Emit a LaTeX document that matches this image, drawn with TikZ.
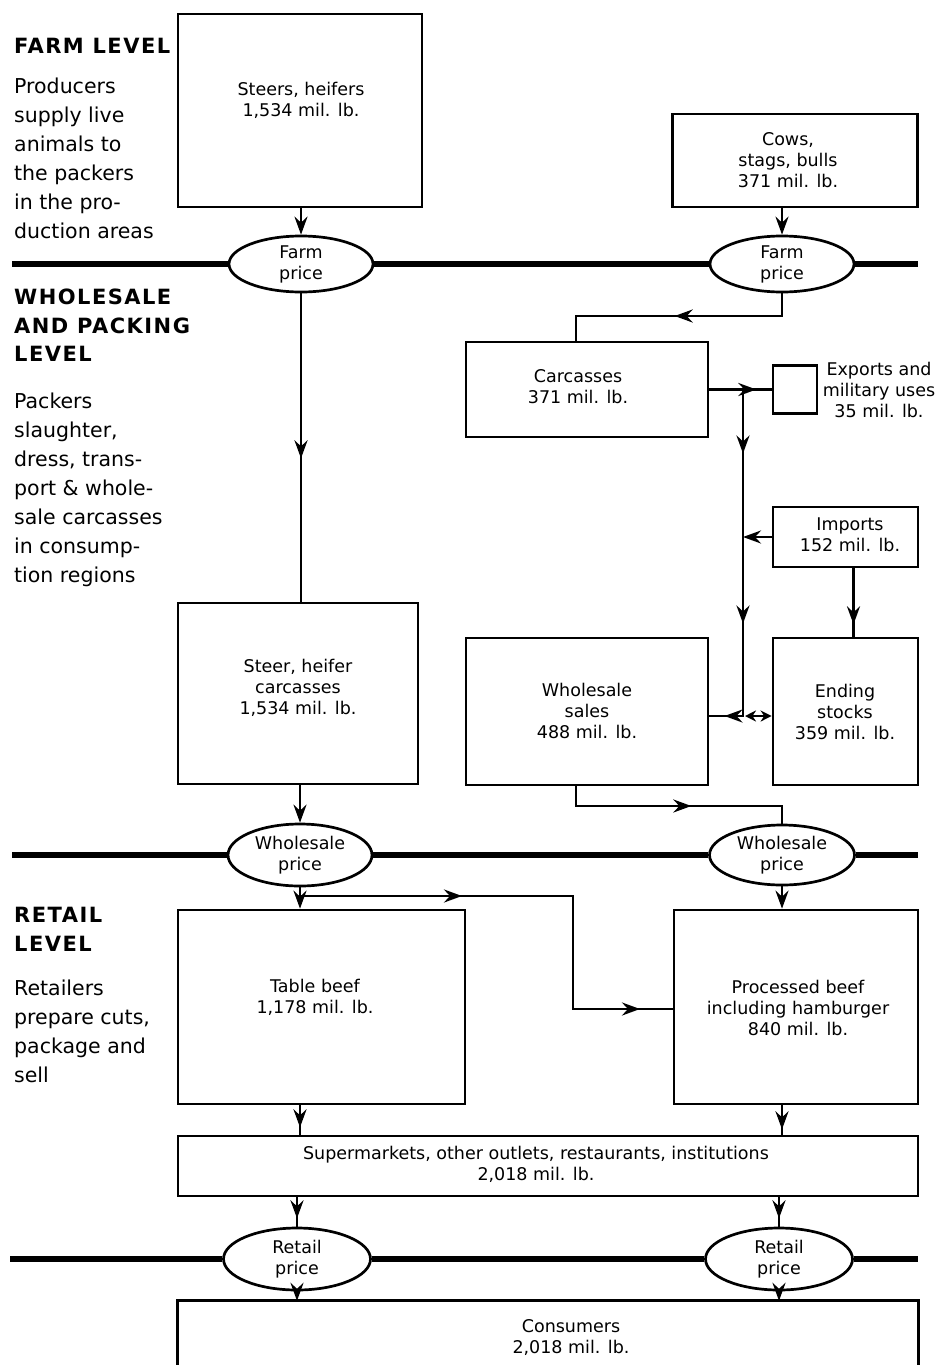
\documentclass[tikz,border=0pt]{standalone}
\usepackage{fontspec}
\setmainfont{DejaVu Sans}
\usetikzlibrary{arrows.meta,shapes.geometric,decorations.markings}
\begin{document}
\begin{tikzpicture}[x=1pt,y=-1pt,
  arr/.tip={Stealth[length=18pt,width=13pt,inset=6pt]},
  sarr/.tip={Stealth[length=11pt,width=11pt,inset=3.5pt]},
  box/.style={draw,line width=2.7pt,rectangle,inner sep=0pt},
  price/.style={draw,line width=2.7pt,ellipse,inner sep=0pt,minimum width=144pt,minimum height=58pt,align=center,font=\fontsize{17.5}{21}\selectfont},
  lbl/.style={align=center,font=\fontsize{17.5}{21}\selectfont,inner sep=0pt},
  conn/.style={line width=2.7pt},
  level/.style={line width=6.5pt},
  marks/.style={postaction={decorate,decoration={markings,#1}}},
  head/.style={anchor=north west,align=left,inner sep=0pt,font=\fontsize{21}{28.5}\selectfont\bfseries\addfontfeatures{LetterSpace=7}},
  body/.style={anchor=north west,align=left,inner sep=0pt,font=\fontsize{20.5}{29}\selectfont},
]
\useasboundingbox (0,0) rectangle (938,1365);

% ---------- left texts ----------
\node[head] (farmH) at (14,38) {FARM LEVEL};
\node[body] (farmB) at (14,78) {Producers\\supply live\\animals to\\the packers\\in the pro-\\duction areas};
\node[head] (wsH) at (14,289) {WHOLESALE\\AND PACKING\\LEVEL};
\node[body] (wsB) at (14,393) {Packers\\slaughter,\\dress, trans-\\port \& whole-\\sale carcasses\\in consump-\\tion regions};
\node[head] (rtH) at (14,907) {RETAIL\\LEVEL};
\node[body] (rtB) at (14,980) {Retailers\\prepare cuts,\\package and\\sell};

% ---------- boxes ----------
\node[box,minimum width=244pt,minimum height=193pt] (steers) at (300,110.5) {};
\node[box,minimum width=245pt,minimum height=93pt] (cows) at (795,160.5) {};
\node[box,minimum width=242pt,minimum height=95pt] (carc) at (587,389.5) {};
\node[box,minimum width=44pt,minimum height=48pt] (expo) at (795,389.5) {};
\node[box,minimum width=145pt,minimum height=60pt] (imp) at (845.5,537) {};
\node[box,minimum width=242pt,minimum height=147pt] (sales) at (587,711.5) {};
\node[box,minimum width=145pt,minimum height=147pt] (ending) at (845.5,711.5) {};
\node[box,minimum width=240pt,minimum height=181pt] (shc) at (298,693.5) {};
\node[box,minimum width=287pt,minimum height=194pt] (table) at (321.5,1007) {};
\node[box,minimum width=244pt,minimum height=194pt] (proc) at (796,1007) {};
\node[box,minimum width=740pt,minimum height=60pt] (super) at (548,1166) {};
\node[inner sep=0pt,minimum width=740pt,minimum height=64pt] (cons) at (548,1333) {};
\draw[conn] (cons.south west) -- (cons.north west) -- (cons.north east) -- (cons.south east);

% ---------- box labels ----------
\node[lbl] (steersT) at (301,100) {Steers, heifers\\1,534 mil. lb.};
\node[lbl] (cowsT) at (788,160) {Cows,\\stags, bulls\\371 mil. lb.};
\node[lbl] (carcT) at (578,387) {Carcasses\\371 mil. lb.};
\node[lbl] (expoT) at (879,390) {Exports and\\military uses\\35 mil. lb.};
\node[lbl] (impT) at (850,535) {Imports\\152 mil. lb.};
\node[lbl] (salesT) at (587,711) {Wholesale\\sales\\488 mil. lb.};
\node[lbl] (endingT) at (845,712) {Ending\\stocks\\359 mil. lb.};
\node[lbl] (shcT) at (298,688) {Steer, heifer\\carcasses\\1,534 mil. lb.};
\node[lbl] (tableT) at (315,997) {Table beef\\1,178 mil. lb.};
\node[lbl] (procT) at (798,1008) {Processed beef\\including hamburger\\840 mil. lb.};
\node[lbl] (superT) at (536,1164) {Supermarkets, other outlets, restaurants, institutions\\2,018 mil. lb.};
\node[lbl] (consT) at (571,1338) {Consumers\\2,018 mil. lb.};

% ---------- price ellipses ----------
\node[price,minimum height=56pt] (fpL) at (301,264) {Farm\\price};
\node[price,minimum height=56pt] (fpR) at (782,264) {Farm\\price};
\node[price,minimum height=62pt] (wpL) at (300,855) {Wholesale\\price};
\node[price,minimum width=145pt,minimum height=60pt] (wpR) at (782,855) {Wholesale\\price};
\node[price,minimum width=147pt,minimum height=62pt] (rpL) at (297,1259) {Retail\\price};
\node[price,minimum width=147pt,minimum height=62pt] (rpR) at (779,1259) {Retail\\price};

% ---------- level lines ----------
\coordinate (a1) at (12,264);
\coordinate (a2) at (918,264);
\coordinate (b1) at (12,855);
\coordinate (b2) at (918,855);
\coordinate (r1) at (10,1259);
\coordinate (r2) at (918,1259);
\draw[level] (a1) -- (fpL.west);
\draw[level] (fpL.east) -- (fpR.west);
\draw[level] (fpR.east) -- (a2);
\draw[level] (b1) -- (wpL.west);
\draw[level] (wpL.east) -- (wpR.west);
\draw[level] (wpR.east) -- (b2);
\draw[level] (r1) -- (rpL.west);
\draw[level] (rpL.east) -- (rpR.west);
\draw[level] (rpR.east) -- (r2);

% ---------- farm / wholesale connectors ----------
\draw[conn,-arr] (fpL.north |- steers.south) -- (fpL.north);
\draw[conn,-arr] (fpR.north |- cows.south) -- (fpR.north);
\draw[conn,marks={mark=at position 165pt with {\arrow{arr}}}] (fpL.south) -- (fpL.south |- shc.north);

\coordinate (c1) at (782,316);
\coordinate (c2) at (576,316);
\draw[conn,marks={mark=at position 130pt with {\arrow{arr}}}] (fpR.south) -- (c1) -- (c2) -- (c2 |- carc.north);
\draw[conn,marks={mark=at position 47pt with {\arrow{arr}}}] (carc.east) -- (expo.west);
\coordinate (j1) at (743,389.5);
\coordinate (j2) at (743,716);
\draw[conn,marks={mark=at position 64pt with {\arrow{arr}},mark=at position 234pt with {\arrow{arr}},mark=at position 345pt with {\arrow{arr}}}] (j1) -- (j2) -- (j2 -| sales.east);
\draw[conn,-arr] (imp.west) -- (imp.west -| j1);
\draw[conn,marks={mark=at position 56pt with {\arrow{arr}}}] ([xshift=8pt]imp.south) -- ([xshift=8pt]ending.north);
\draw[conn,sarr-sarr] ([xshift=2pt]j2) -- (j2 -| ending.west);
\coordinate (s1) at (576,806);
\coordinate (s2) at (782,806);
\draw[conn,marks={mark=at position 135pt with {\arrow{arr}}}] (s1 |- sales.south) -- (s1) -- (s2) -- (wpR.north);
\draw[conn,-arr] (wpL.north |- shc.south) -- (wpL.north);

% ---------- retail connectors ----------
\draw[conn,-arr] (wpL.south) -- (wpL.south |- table.north);
\coordinate (d0) at (300,896);
\coordinate (d1) at (573,896);
\coordinate (d2) at (573,1009);
\draw[conn,marks={mark=at position 162pt with {\arrow{arr}},mark=at position 453pt with {\arrow{arr}}}] (d0) -- (d1) -- (d2) -- (d2 -| proc.west);
\draw[conn,-arr] (wpR.south) -- (wpR.south |- proc.north);
\draw[conn,marks={mark=at position 22pt with {\arrow{arr}}}] (wpL.south |- table.south) -- (wpL.south |- super.north);
\draw[conn,marks={mark=at position 24pt with {\arrow{arr}}}] (wpR.south |- proc.south) -- (wpR.south |- super.north);
\draw[conn,marks={mark=at position 21pt with {\arrow{arr}}}] (rpL.north |- super.south) -- (rpL.north);
\draw[conn,marks={mark=at position 21pt with {\arrow{arr}}}] (rpR.north |- super.south) -- (rpR.north);
\draw[conn,-arr] (rpL.south) -- (rpL.south |- cons.north);
\draw[conn,-arr] (rpR.south) -- (rpR.south |- cons.north);
\end{tikzpicture}
\end{document}
